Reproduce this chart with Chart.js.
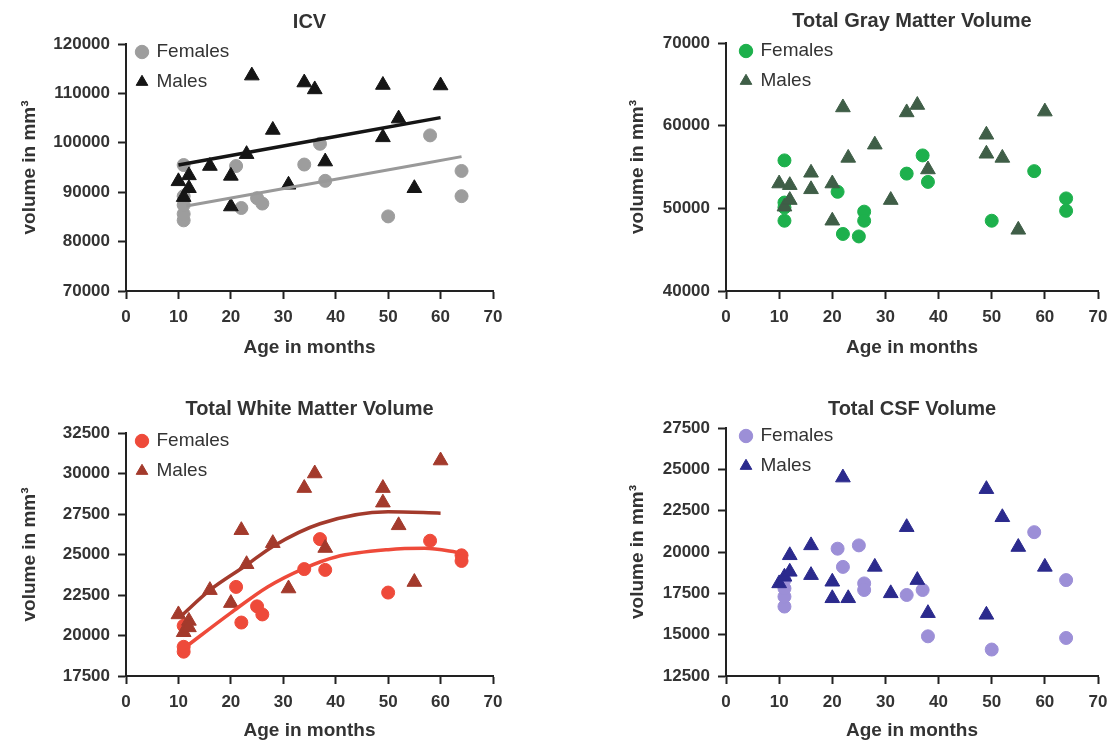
<!DOCTYPE html>
<html>
<head>
<meta charset="utf-8">
<title>Brain volumes by age</title>
<script src="https://cdn.jsdelivr.net/npm/chart.js@4.4.1/dist/chart.umd.min.js"></script>
<style>
  body { margin: 0; background: #fff; width: 1117px; height: 745px; position: relative; overflow: hidden; }
  .panel { position: absolute; }
</style>
</head>
<body>
<div class="panel" style="left:0;top:0;width:520px;height:372px"><canvas id="icvChart"></canvas></div>
<div class="panel" style="left:600px;top:0;width:517px;height:372px"><canvas id="gmChart"></canvas></div>
<div class="panel" style="left:0;top:372px;width:520px;height:373px"><canvas id="wmChart"></canvas></div>
<div class="panel" style="left:600px;top:372px;width:517px;height:373px"><canvas id="csfChart"></canvas></div>

<script>
// Data: [age in months, volume in mm3]
const ageTicks = [0, 10, 20, 30, 40, 50, 60, 70];

// ICV
const icvTicks = [70000, 80000, 90000, 100000, 110000, 120000];
const icvFemales = [[11, 84300], [11, 85600], [11, 87400], [11, 89200], [11, 95500], [21, 95300], [22, 86800],
  [25, 88800], [26, 87700], [34, 95600], [37, 99800], [38, 92300], [50, 85100], [58, 101500], [64, 94300], [64, 89200]];
const icvMales = [[10, 92200], [11, 89000], [12, 90800], [12, 93400], [16, 95300], [20, 93300], [20, 87100],
  [23, 97700], [24, 113600], [28, 102600], [31, 91500], [34, 112200], [36, 110800], [38, 96200], [49, 101100],
  [49, 111700], [52, 104900], [55, 90800], [60, 111600]];
const icvFemaleFit = [[11.5, 87200], [64, 97200]];
const icvMaleFit = [[10, 95500], [60, 105100]];

// Total gray matter
const gmTicks = [40000, 50000, 60000, 70000];
const gmFemales = [[11, 55800], [11, 50700], [11, 50100], [11, 48500], [21, 52000], [22, 46900], [25, 46600],
  [26, 49600], [26, 48500], [34, 54200], [37, 56400], [38, 53200], [50, 48500], [58, 54500], [64, 51200], [64, 49700]];
const gmMales = [[10, 53000], [11, 50200], [12, 52800], [12, 51000], [16, 54300], [16, 52300], [20, 53000],
  [20, 48500], [22, 62200], [23, 56100], [28, 57700], [31, 51000], [34, 61600], [36, 62500], [38, 54700],
  [49, 58900], [49, 56600], [52, 56100], [55, 47400], [60, 61700]];

// Total white matter
const wmTicks = [17500, 20000, 22500, 25000, 27500, 30000, 32500];
const wmFemales = [[11, 19000], [11, 19300], [11, 20600], [21, 23000], [22, 20800], [25, 21800], [26, 21300],
  [34, 24100], [37, 25950], [38, 24050], [50, 22650], [58, 25850], [64, 24950], [64, 24600]];
const wmMales = [[10, 21300], [11, 20200], [12, 20900], [12, 20500], [16, 22800], [20, 22000], [22, 26500],
  [23, 24400], [28, 25700], [31, 22900], [34, 29100], [36, 30000], [38, 25400], [49, 29100], [49, 28200],
  [52, 26800], [55, 23300], [60, 30800]];
const wmFemaleFit = [[11, 19200], [20, 21400], [27, 23000], [34, 24150], [40, 24850], [50, 25300], [57, 25380], [64, 25100]];
const wmMaleFit = [[10.5, 21200], [16, 22800], [23, 24350], [28, 25500], [37, 26900], [50, 27640], [60, 27550]];

// Total CSF
const csfTicks = [12500, 15000, 17500, 20000, 22500, 25000, 27500];
const csfFemales = [[11, 16700], [11, 17300], [11, 17800], [11, 18300], [21, 20200], [22, 19100], [25, 20400],
  [26, 18100], [26, 17700], [34, 17400], [37, 17700], [38, 14900], [50, 14100], [58, 21200], [64, 18300], [64, 14800]];
const csfMales = [[10, 18100], [11, 18500], [12, 18800], [12, 19800], [16, 20400], [16, 18600], [20, 18200],
  [20, 17200], [22, 24500], [23, 17200], [28, 19100], [31, 17500], [34, 21500], [36, 18300], [38, 16300],
  [49, 23800], [49, 16200], [52, 22100], [55, 20300], [60, 19100]];

const fontFamily = "'Liberation Sans', Arial, Helvetica, sans-serif";
const axisColor = '#222';
const textColor = '#333';
Chart.defaults.font.family = fontFamily;

const toXY = pts => pts.map(([x, y]) => ({ x, y }));

// puts the legend inside the plot, top-left (a vertical chartArea legend starts at y=0 otherwise)
const legendShift = {
  id: 'legendShift',
  afterLayout(chart, args, opts) {
    const lg = chart.legend;
    if (!lg) return;
    const h = lg.bottom - lg.top;
    lg.left = chart.chartArea.left + (opts.dx || 0);
    lg.top = chart.chartArea.top + (opts.dy || 0);
    lg.bottom = lg.top + h;
  }
};

function drawPanel(canvasId, o) {
  const datasets = [
    {
      label: 'Females', data: toXY(o.females), pointStyle: 'circle', pointRadius: 6.5,
      backgroundColor: o.femaleColor, borderColor: o.femaleColor, borderWidth: 1, order: 3
    },
    {
      label: 'Males', data: toXY(o.males), pointStyle: 'triangle', pointRadius: 8.5,
      backgroundColor: o.maleColor, borderColor: o.maleColor, borderWidth: 1, order: 2
    }
  ];
  (o.fits || []).forEach(f => {
    datasets.push({
      label: 'fit', data: toXY(f.points), showLine: true, pointRadius: 0,
      borderColor: f.color, borderWidth: f.width, cubicInterpolationMode: 'monotone', order: 1
    });
  });

  const yTicks = o.yTicks;
  new Chart(document.getElementById(canvasId), {
    type: 'scatter',
    data: { datasets },
    plugins: [legendShift],
    options: {
      responsive: true,
      maintainAspectRatio: false,
      animation: false,
      layout: { padding: { left: 0, right: o.padRight, top: 0, bottom: 0 } },
      plugins: {
        tooltip: { enabled: false },
        title: {
          display: true, text: o.title, fullSize: false, color: textColor,
          font: { size: 20, weight: 'bold' },
          padding: { top: o.titlePad[0], bottom: o.titlePad[1] }
        },
        legend: {
          position: 'chartArea', align: 'start', reverse: true,
          labels: {
            usePointStyle: true, boxWidth: 10, boxHeight: 9.5, padding: 11,
            color: textColor, font: { size: 19 },
            filter: item => item.text !== 'fit'
          }
        },
        legendShift: { dx: o.legendDx, dy: -12.5 }
      },
      scales: {
        x: {
          type: 'linear',
          min: ageTicks[0], max: ageTicks[ageTicks.length - 1],
          afterBuildTicks: s => { s.ticks = ageTicks.map(v => ({ value: v })); },
          afterFit: s => { s.height = o.xAxisHeight; },
          grid: { drawOnChartArea: false, tickLength: 8, tickWidth: 2, tickColor: axisColor },
          border: { color: axisColor, width: 2 },
          ticks: { color: textColor, padding: 8, font: { size: 17, weight: 'bold' } },
          title: {
            display: true, text: 'Age in months', color: textColor,
            font: { size: 19, weight: 'bold' }, padding: { top: 0, bottom: o.xTitlePad }
          }
        },
        y: {
          min: yTicks[0], max: yTicks[yTicks.length - 1],
          afterBuildTicks: s => { s.ticks = yTicks.map(v => ({ value: v })); },
          afterFit: s => { s.width = 126; },
          grid: { drawOnChartArea: false, tickLength: 8, tickWidth: 2, tickColor: axisColor },
          border: { color: axisColor, width: 2 },
          ticks: { color: textColor, padding: 8, font: { size: 17, weight: 'bold' }, callback: v => String(v) },
          title: {
            display: true, text: 'volume in mm\u00B3', color: textColor,
            font: { size: 19, weight: 'bold' }, padding: { top: o.yTitlePad, bottom: 0 }
          }
        }
      }
    }
  });
}

drawPanel('icvChart', {
  title: 'ICV', yTicks: icvTicks, females: icvFemales, males: icvMales,
  femaleColor: '#9d9d9d', maleColor: '#151515',
  fits: [{ points: icvFemaleFit, color: '#999999', width: 3 }, { points: icvMaleFit, color: '#151515', width: 3.5 }],
  titlePad: [10, 10], padRight: 27, xAxisHeight: 81, xTitlePad: 12.6, yTitlePad: 18.6, legendDx: 0
});

drawPanel('gmChart', {
  title: 'Total Gray Matter Volume', yTicks: gmTicks, females: gmFemales, males: gmMales,
  femaleColor: '#1db04c', maleColor: '#3f5e47',
  titlePad: [9, 10], padRight: 19, xAxisHeight: 81, xTitlePad: 12.6, yTitlePad: 26.6, legendDx: 4
});

drawPanel('wmChart', {
  title: 'Total White Matter Volume', yTicks: wmTicks, females: wmFemales, males: wmMales,
  femaleColor: '#ee4a3a', maleColor: '#a33a2c',
  fits: [{ points: wmFemaleFit, color: '#ee4a3a', width: 3.5 }, { points: wmMaleFit, color: '#a33a2c', width: 3.5 }],
  titlePad: [25, 12], padRight: 27, xAxisHeight: 69, xTitlePad: 2.6, yTitlePad: 18.6, legendDx: 0
});

drawPanel('csfChart', {
  title: 'Total CSF Volume', yTicks: csfTicks, females: csfFemales, males: csfMales,
  femaleColor: '#9c8fd7', maleColor: '#2b2a8d',
  titlePad: [25, 7], padRight: 19, xAxisHeight: 69, xTitlePad: 2.6, yTitlePad: 26.6, legendDx: 4
});
</script>
</body>
</html>
